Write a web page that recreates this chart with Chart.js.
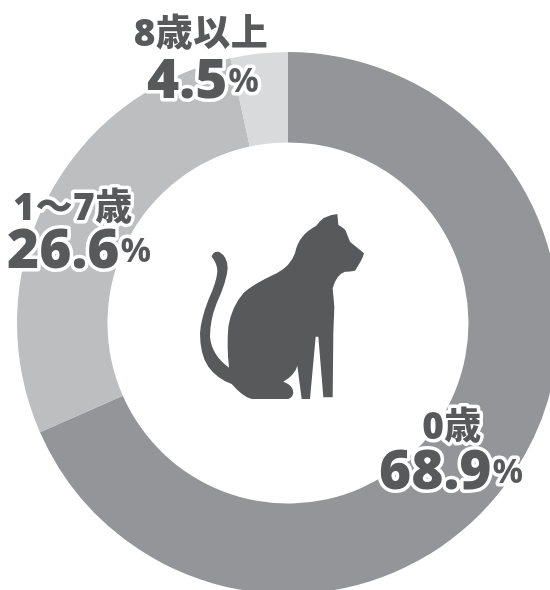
<!DOCTYPE html>
<html lang="ja">
<head>
<meta charset="utf-8">
<title>猫の年齢</title>
<script src="https://cdn.jsdelivr.net/npm/chart.js@4"></script>
<style>
html, body { margin: 0; padding: 0; background: #fff; width: 550px; height: 590px; overflow: hidden; }
#wrap { position: relative; width: 550px; height: 590px; overflow: hidden; }
canvas { position: absolute; left: 0; top: 0; }
</style>
</head>
<body>
<div id="wrap"><canvas id="ageChart" width="576" height="646"></canvas></div>
<script>
// Share of cats by age group
const categories = ['0歳', '1〜7歳', '8歳以上'];
const shares = [68.9, 26.6, 4.5];
// the ring in the picture does not follow the printed numbers exactly, these are read off the arcs
const arcShares = [68.4, 28.2, 3.4];
const sliceColors = ['#939598', '#bcbec0', '#d9dadc'];

const inkColor = '#58595b';
const catPath = 'M472 42 L475 75 Q492 84 497 92 L510 125 L552 160 Q548 178 525 212 Q505 216 495 215 Q470 222 458 265 L463 320 L460 400 L458 592 L430 592 L415 410 L407 410 L390 597 L365 597 L352 497 Q345 525 310 545 Q340 555 340 578 Q338 592 325 597 L215 597 Q190 592 155 552 Q110 535 85 500 Q60 465 60 400 Q62 360 85 300 Q110 245 112 215 Q112 190 95 170 Q100 152 118 156 Q143 170 143 205 Q140 245 110 310 Q90 360 90 410 Q95 465 147 503 Q140 440 145 380 Q155 320 190 280 Q215 255 290 220 Q330 200 345 160 Q355 105 408 78 Q430 45 472 42 Z';

// label anchors: name centre + name baseline, value left + value baseline
const labelPlaces = [
    { cx: 452, nameY: 439, x: 379, y: 489 },
    { cx: 73, nameY: 220, x: 7, y: 268 },
    { cx: 201, nameY: 46, x: 147, y: 98 }
];

const drawText = (ctx, text, x, y) => {
    ctx.strokeText(text, x, y);
    ctx.fillText(text, x, y);
};

const overlayPlugin = {
    id: 'overlay',
    afterDraw(chart) {
        const ctx = chart.ctx;
        ctx.save();
        // cat in the middle of the ring
        ctx.save();
        ctx.translate(180, 200);
        ctx.scale(1 / 3, 1 / 3);
        ctx.fillStyle = inkColor;
        ctx.fill(new Path2D(catPath));
        ctx.restore();

        ctx.lineJoin = 'round';
        ctx.strokeStyle = '#fff';
        ctx.lineWidth = 7;
        ctx.fillStyle = inkColor;
        ctx.textBaseline = 'alphabetic';
        categories.forEach((name, i) => {
            const place = labelPlaces[i];
            ctx.textAlign = 'center';
            ctx.font = '800 37px "Open Sans", "Noto Sans CJK JP"';
            ctx.letterSpacing = '0.5px';
            drawText(ctx, name, place.cx, place.nameY);
            ctx.letterSpacing = '0px';

            ctx.textAlign = 'left';
            const value = shares[i].toFixed(1);
            ctx.font = '800 55px "Open Sans"';
            drawText(ctx, value, place.x, place.y);
            const w = ctx.measureText(value).width;
            ctx.font = '700 34px "Open Sans"';
            drawText(ctx, '%', place.x + w + 1, place.y - 6);
        });
        ctx.restore();
    }
};

new Chart(document.getElementById('ageChart').getContext('2d'), {
    type: 'doughnut',
    data: {
        labels: categories,
        datasets: [{
            data: arcShares,
            backgroundColor: sliceColors,
            borderWidth: 0
        }]
    },
    options: {
        responsive: false,
        animation: false,
        cutout: '66.6%',
        layout: { padding: { left: 17, right: 17, top: 52, bottom: 52 } },
        plugins: {
            legend: { display: false },
            tooltip: { enabled: false }
        }
    },
    plugins: [overlayPlugin]
});
</script>
</body>
</html>
